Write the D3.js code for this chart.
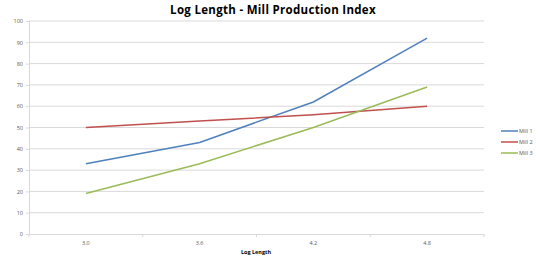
<!DOCTYPE html>
<html>
<head>
<meta charset="utf-8">
<script src="https://cdn.jsdelivr.net/npm/d3@7"></script>
<style>
  body { margin: 0; background: #fff; }
  text { font-family: "Open Sans", sans-serif; }
</style>
</head>
<body>
<svg width="539" height="260"></svg>
<script>
const categories = ['3.0', '3.6', '4.2', '4.8'];
const mill1 = [33, 43, 62, 92];
const mill2 = [50, 53, 56, 60];
const mill3 = [19, 33, 50, 69];
const seriesNames = ['Mill 1', 'Mill 2', 'Mill 3'];
const yTicks = [0, 10, 20, 30, 40, 50, 60, 70, 80, 90, 100];

const series = [
  { name: seriesNames[0], values: mill1, color: '#4f81bd' },
  { name: seriesNames[1], values: mill2, color: '#c0504d' },
  { name: seriesNames[2], values: mill3, color: '#9bbb59' }
];

const svg = d3.select('svg'),
      margin = { top: 21, right: 55, bottom: 26, left: 29 },
      width = +svg.attr('width') - margin.left - margin.right,
      height = +svg.attr('height') - margin.top - margin.bottom;

const x = d3.scaleBand().domain(categories).range([0, width]);
const y = d3.scaleLinear().domain([0, 100]).range([height, 0]);

const g = svg.append('g').attr('transform', 'translate(' + margin.left + ',' + margin.top + ')');

// gridlines
g.append('g')
  .selectAll('line')
  .data(yTicks.filter(d => d > 0))
  .enter().append('line')
    .attr('x1', 0).attr('x2', width)
    .attr('y1', d => y(d)).attr('y2', d => y(d))
    .attr('stroke', '#d9d9d9').attr('stroke-width', 1);

// y axis
const yAxis = g.append('g').call(d3.axisLeft(y).tickValues(yTicks).tickSize(3).tickPadding(3));
yAxis.select('.domain').attr('stroke', '#d9d9d9');
yAxis.selectAll('.tick line').attr('stroke', '#d9d9d9');
yAxis.selectAll('.tick text').attr('fill', '#595959').style('font-size', '5.5px');

// x axis
const xAxis = g.append('g')
  .attr('transform', 'translate(0,' + height + ')')
  .call(d3.axisBottom(x).tickSize(0).tickPadding(7));
xAxis.select('.domain').attr('stroke', '#d9d9d9');
xAxis.selectAll('.tick text').attr('fill', '#595959').style('font-size', '5.5px');
xAxis.selectAll('.bound')
  .data(d3.range(categories.length + 1))
  .enter().append('line')
    .attr('class', 'bound')
    .attr('x1', i => i * x.step()).attr('x2', i => i * x.step())
    .attr('y1', 0).attr('y2', 3)
    .attr('stroke', '#d9d9d9');

// lines
const line = d3.line()
  .x((d, i) => x(categories[i]) + x.bandwidth() / 2)
  .y(d => y(d));

g.selectAll('.series')
  .data(series)
  .enter().append('path')
    .attr('class', 'series')
    .attr('fill', 'none')
    .attr('stroke', d => d.color)
    .attr('stroke-width', 1.5)
    .attr('d', d => line(d.values));

// title
svg.append('text')
  .attr('x', 273).attr('y', 14)
  .attr('text-anchor', 'middle')
  .style('font-size', '11.5px').style('font-weight', 'bold')
  .style('letter-spacing', '0.3px')
  .attr('fill', '#000')
  .text('Log Length - Mill Production Index');

// x axis title
svg.append('text')
  .attr('x', 256).attr('y', 254)
  .attr('text-anchor', 'middle')
  .style('font-size', '5.5px').style('font-weight', 'bold')
  .attr('fill', '#000')
  .text('Log Length');

// legend
const legend = svg.append('g').attr('transform', 'translate(501,131)');
const item = legend.selectAll('g')
  .data(series)
  .enter().append('g')
    .attr('transform', (d, i) => 'translate(0,' + i * 11 + ')');
item.append('line')
  .attr('x1', 0).attr('x2', 17)
  .attr('stroke', d => d.color).attr('stroke-width', 1.5);
item.append('text')
  .attr('x', 18).attr('dy', '0.35em')
  .style('font-size', '5.5px')
  .attr('fill', '#595959')
  .text(d => d.name);
</script>
</body>
</html>
